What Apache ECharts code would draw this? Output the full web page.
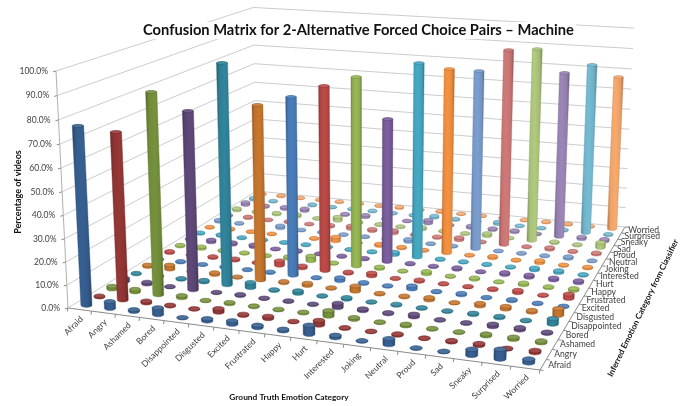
<!DOCTYPE html>
<html>
<head>
<meta charset="utf-8">
<style>html,body{margin:0;padding:0;background:#fff}#chart{width:690px;height:406px}</style>
<script src="https://cdn.jsdelivr.net/npm/echarts@6/dist/echarts.min.js"></script>
</head>
<body>
<div id="chart"></div>
<script>
// Emotion categories shared by both floor axes.
const emotions = ['Afraid','Angry','Ashamed','Bored','Disappointed','Disgusted','Excited','Frustrated','Happy','Hurt','Interested','Joking','Neutral','Proud','Sad','Sneaky','Surprised','Worried'];
const percentTicks = [0,10,20,30,40,50,60,70,80,90,100];

// Share of videos (%) per inferred category, one value per ground-truth category.
const inferredAfraid       = [76.8,3.0,0.8,3.0,0.1,1.0,1.5,1.0,0.7,3.8,1.0,0.2,2.5,0.1,0.2,2.5,4.0,1.5];
const inferredAngry        = [0.5,72.8,0.9,0.4,0.2,1.6,0.5,1.0,0.2,2.0,0.3,0.2,0.5,0.2,0.6,0.8,0.3,0.9];
const inferredAshamed      = [1.3,1.2,88.3,1.0,0.2,0.6,0.4,0.3,0.4,2.4,0.8,0.3,0.7,0.3,0.3,0.8,0.9,0.8];
const inferredBored        = [1.5,0.9,0.2,78.9,0.2,0.5,0.2,0.3,0.25,1.9,0.8,0.5,1.2,0.2,0.3,1.1,1.0,0.5];
const inferredDisappointed = [0.3,0.4,0.4,0.8,98.2,2.4,0.4,1.2,0.3,0.8,0.2,0.5,0.3,0.3,0.6,0.6,0.3,2.4];
const inferredDisgusted    = [0.8,2.0,0.3,0.9,0.2,78.8,0.6,1.1,0.3,2.4,0.4,0.5,1.1,0.2,1.2,1.2,0.8,3.0];
const inferredExcited      = [0.2,0.4,0.2,0.3,0.2,0.3,81.0,0.2,1.4,0.5,0.3,1.5,0.3,0.7,0.2,0.6,0.3,0.3];
const inferredFrustrated   = [0.7,0.3,0.6,0.7,0.2,2.2,1.0,84.6,0.6,1.4,0.2,0.7,0.3,0.3,0.5,1.1,0.3,2.0];
const inferredHappy        = [0.5,0.9,0.3,0.3,0.2,0.9,2.4,0.3,87.4,0.8,0.2,1.2,0.3,0.7,0.2,0.9,0.5,0.9];
const inferredHurt         = [0.5,1.1,0.9,1.0,0.2,0.5,0.2,0.3,0.4,67.0,0.4,0.3,0.8,0.2,1.0,1.1,1.0,1.0];
const inferredInterested   = [0.4,0.6,0.3,0.3,0.2,0.3,0.3,0.25,0.4,1.3,91.4,0.4,0.3,0.3,0.3,1.0,1.0,0.4];
const inferredJoking       = [0.2,0.5,0.2,0.2,0.2,0.2,2.0,0.4,0.8,0.5,0.2,87.5,0.2,0.8,0.2,1.1,0.3,0.5];
const inferredNeutral      = [0.8,0.3,0.3,1.2,0.2,0.2,0.15,0.2,0.3,1.2,0.2,0.2,85.4,0.15,0.2,0.25,0.9,0.2];
const inferredProud        = [0.4,0.6,0.2,0.4,0.2,0.7,1.4,0.9,1.3,0.6,0.5,1.2,0.25,94.1,0.25,0.9,0.3,0.7];
const inferredSad          = [1.0,0.5,0.7,1.0,0.1,1.9,0.4,0.3,0.3,1.0,0.3,0.2,1.3,0.15,93.5,0.6,0.4,2.6];
const inferredSneaky       = [1.4,0.6,0.9,1.2,0.2,0.5,1.0,0.3,0.2,1.7,0.3,0.9,0.7,0.8,0.3,81.0,1.0,1.0];
const inferredSurprised    = [1.0,0.3,0.4,0.5,0.2,0.3,0.4,0.2,0.3,0.9,0.4,0.3,1.0,0.2,0.15,0.4,83.7,0.4];
const inferredWorried      = [0.4,0.5,0.2,0.3,0.3,0.3,0.3,0.5,0.2,0.5,0.2,0.2,0.2,0.2,0.4,0.4,0.3,76.6];

const rows = [inferredAfraid,inferredAngry,inferredAshamed,inferredBored,inferredDisappointed,inferredDisgusted,inferredExcited,inferredFrustrated,inferredHappy,inferredHurt,inferredInterested,inferredJoking,inferredNeutral,inferredProud,inferredSad,inferredSneaky,inferredSurprised,inferredWorried];

const rowColors = ['#376092','#953735','#76923C','#5F497A','#31859C','#C8772E','#4A7EBB','#BE4B48','#98B954','#7D60A0','#46AAC5','#F69240','#7C9FD0','#D07A78','#B0CA7E','#9C87B8','#76BCD4','#F9AA6E'];

// Perspective camera: (ground truth, inferred, height), each 0..1, to canvas pixels.
const camera = [
  [415.3, 266.75, -14.2, 68],
  [23.15, -58.73, -239.8, 308],
  [-0.10501, 0.30509, -0.0393, 1]
];
function project(u, v, t) {
  const m = camera;
  const w = m[2][0]*u + m[2][1]*v + m[2][2]*t + m[2][3];
  return {
    x: (m[0][0]*u + m[0][1]*v + m[0][2]*t + m[0][3]) / w,
    y: (m[1][0]*u + m[1][1]*v + m[1][2]*t + m[1][3]) / w,
    w: w
  };
}

function shade(hex, f) {
  const n = parseInt(hex.slice(1), 16);
  const ch = [n >> 16, (n >> 8) & 255, n & 255].map(c => {
    const r = f < 1 ? c * f : c + (255 - c) * (f - 1);
    return Math.round(r);
  });
  return 'rgb(' + ch.join(',') + ')';
}

const textFont = 'Lato, "Open Sans", sans-serif';
const tickColor = '#404040';
const wallLine = '#cdcdcd';
const axisLine = '#8a8a8a';
const n = emotions.length;

function line(a, b, color) {
  return {type:'line', shape:{x1:a.x,y1:a.y,x2:b.x,y2:b.y}, style:{stroke:color, lineWidth:1}, silent:true};
}

// Walls: a gridline on each wall and a percentage label per tick.
function renderWallTick(params, api) {
  const t = api.value(0) / 100;
  const fl = project(0,0,t), bl = project(0,1,t), br = project(1,1,t);
  return {type:'group', children:[
    line(fl, bl, wallLine),
    line(bl, br, wallLine),
    {type:'line', shape:{x1:fl.x-3,y1:fl.y+0.8,x2:fl.x,y2:fl.y}, style:{stroke:axisLine,lineWidth:1}},
    {type:'text', x:fl.x-8, y:fl.y, style:{text:api.value(0).toFixed(1)+'%', fill:tickColor, font:'8.5px '+textFont, align:'right', verticalAlign:'middle'}}
  ]};
}

// Front axis: ground truth category ticks and slanted labels.
function renderFrontTick(params, api) {
  const i = api.value(0);
  const a = project(i/n,0,0);
  const c = project((i+0.5)/n,0,0);
  const children = [{type:'line', shape:{x1:a.x,y1:a.y,x2:a.x-0.6,y2:a.y+3.5}, style:{stroke:axisLine,lineWidth:1}}];
  if (i < n) {
    children.push({type:'text', x:c.x+2, y:c.y+8, rotation:Math.PI/4,
      style:{text:emotions[i], fill:tickColor, font:'8.6px '+textFont, align:'right', verticalAlign:'middle'}});
  }
  return {type:'group', children};
}

// Side axis: inferred category ticks and labels.
function renderSideTick(params, api) {
  const i = api.value(0);
  const a = project(1,i/n,0);
  const c = project(1,(i+0.5)/n,0);
  const children = [{type:'line', shape:{x1:a.x,y1:a.y,x2:a.x+3.5,y2:a.y+0.4}, style:{stroke:axisLine,lineWidth:1}}];
  if (i < n) {
    children.push({type:'text', x:c.x+5, y:c.y, style:{text:emotions[i], fill:tickColor, font:'8.6px '+textFont, align:'left', verticalAlign:'middle'}});
  }
  return {type:'group', children};
}

// One cylinder per cell, positioned through the hidden grid's scales and then projected.
function renderCylinder(params, api) {
  const box = params.coordSys;
  const col = api.value(0), value = api.value(1), row = api.value(2);
  const p = api.coord([col, value]);
  const u = (p[0] - box.x) / box.width;
  const t = (box.y + box.height - p[1]) / box.height;
  const v = (row + 0.5) / n;
  const base = project(u, v, 0), top = project(u, v, t);
  const color = rowColors[row];
  const rxB = 5.6 / base.w, rxT = 5.6 / top.w;
  const ryB = rxB * 0.37, ryT = rxT * (0.37 - 0.12 * t);
  const pts = [[top.x - rxT, top.y], [top.x + rxT, top.y]];
  const steps = 12;
  for (let s = 0; s <= steps; s++) {
    const a = Math.PI * s / steps;
    pts.push([base.x + rxB * Math.cos(a), base.y + ryB * Math.sin(a)]);
  }
  const grad = {type:'linear', x:0, y:0, x2:1, y2:0, colorStops:[
    {offset:0, color:shade(color,0.7)},
    {offset:0.2, color:shade(color,0.95)},
    {offset:0.5, color:color},
    {offset:0.8, color:shade(color,0.93)},
    {offset:1, color:shade(color,0.68)}
  ]};
  return {type:'group', children:[
    {type:'polygon', shape:{points:pts}, style:{fill:grad, stroke:shade(color,0.8), lineWidth:0.4}},
    {type:'ellipse', shape:{cx:top.x, cy:top.y, rx:rxT, ry:ryT}, style:{fill:shade(color,1.1), stroke:shade(color,0.75), lineWidth:0.6}}
  ]};
}

// Back rows first so nearer cylinders are painted on top.
const cylinderData = [];
for (let r = n - 1; r >= 0; r--) {
  rows[r].forEach((val, c) => cylinderData.push([c, val, r]));
}

const floorFL = project(0,0,0), floorFR = project(1,0,0), floorBR = project(1,1,0), wallTop = project(0,0,1);

const chart = echarts.init(document.getElementById('chart'), null, {renderer:'canvas'});
chart.setOption({
  animation:false,
  backgroundColor:'#ffffff',
  title:{
    text:'Confusion Matrix for 2-Alternative Forced Choice Pairs \u2013 Machine',
    left:141, top:22, padding:[1,2,1,2],
    backgroundColor:'#ffffff',
    textStyle:{fontFamily:textFont, fontWeight:'bold', fontSize:14.7, color:'#111111'}
  },
  grid:{left:0, right:0, top:0, bottom:0, show:false},
  xAxis:{type:'category', data:emotions, show:false},
  yAxis:{type:'value', min:0, max:100, interval:10, show:false},
  graphic:[
    {type:'text', x:18, y:192, rotation:Math.PI/2, silent:true,
      style:{text:'Percentage of videos', fill:'#111', font:'bold 9px '+textFont, align:'center', verticalAlign:'middle'}},
    {type:'text', x:289, y:397, silent:true,
      style:{text:'Ground Truth Emotion Category', fill:'#111', font:'bold 8.4px '+textFont, align:'center', verticalAlign:'middle'}},
    {type:'text', x:643, y:308, rotation:64*Math.PI/180, silent:true,
      style:{text:'Inferred Emotion Category from Classifier', fill:'#111', font:'bold 8.2px '+textFont, align:'center', verticalAlign:'middle'}},
    {type:'line', silent:true, shape:{x1:floorFL.x,y1:floorFL.y,x2:wallTop.x,y2:wallTop.y}, style:{stroke:'#b0b0b0',lineWidth:1}},
    {type:'line', silent:true, shape:{x1:floorFL.x,y1:floorFL.y,x2:floorFR.x,y2:floorFR.y}, style:{stroke:axisLine,lineWidth:1}},
    {type:'line', silent:true, shape:{x1:floorFR.x,y1:floorFR.y,x2:floorBR.x,y2:floorBR.y}, style:{stroke:axisLine,lineWidth:1}}
  ],
  series:[
    {type:'custom', name:'walls', coordinateSystem:'none', silent:true, clip:false, renderItem:renderWallTick, data:percentTicks.map(v=>[v])},
    {type:'custom', name:'ground truth axis', coordinateSystem:'none', silent:true, clip:false, renderItem:renderFrontTick, data:emotions.concat(['']).map((e,i)=>[i])},
    {type:'custom', name:'inferred axis', coordinateSystem:'none', silent:true, clip:false, renderItem:renderSideTick, data:emotions.concat(['']).map((e,i)=>[i])},
    {type:'custom', name:'confusion matrix', coordinateSystem:'cartesian2d', silent:true, clip:false, renderItem:renderCylinder,
      encode:{x:0, y:1}, data:cylinderData}
  ]
});
</script>
</body>
</html>
